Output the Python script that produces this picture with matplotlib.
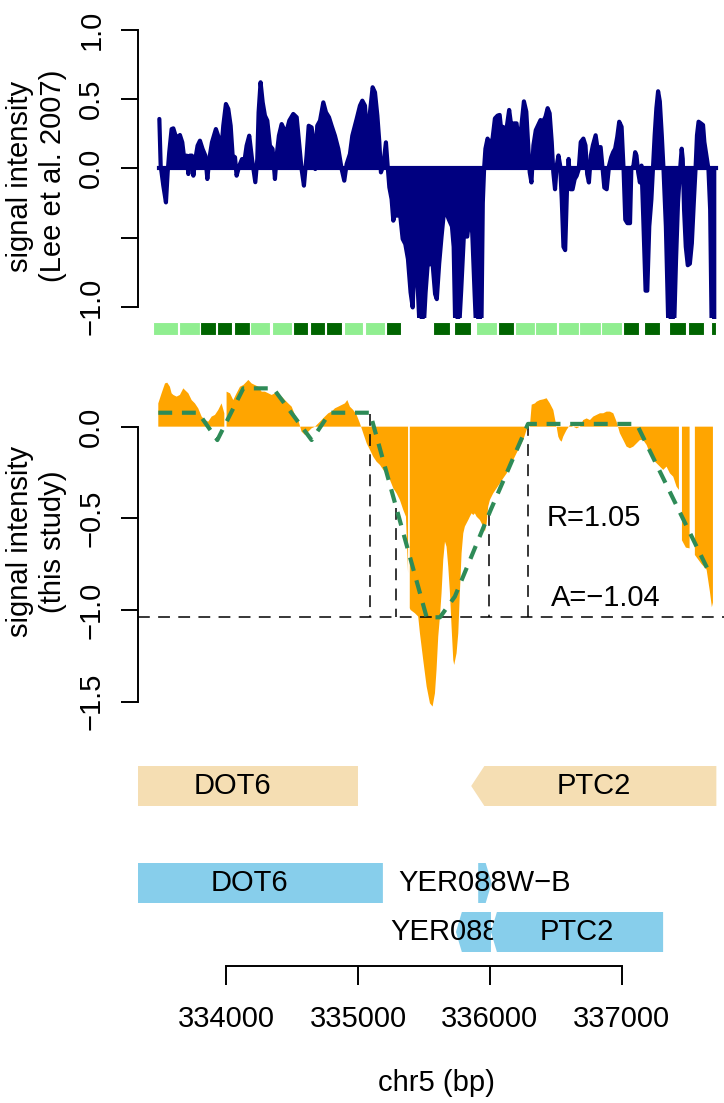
import matplotlib
matplotlib.use("Agg")
import numpy as np
import matplotlib.pyplot as plt
from matplotlib.patches import Polygon, Rectangle

plt.rcParams['font.family'] = ['Liberation Sans', 'DejaVu Sans']
plt.rcParams['axes.unicode_minus'] = True
plt.rcParams['lines.scale_dashes'] = False

# ---------------- data ----------------
# Lee et al. 2007 signal (top panel)
lee_pos = [
    333493, 333503, 333523, 333543, 333556, 333568, 333586, 333599, 333616, 333637,
    333649, 333667, 333682, 333700, 333713, 333725, 333740, 333751, 333766, 333783,
    333801, 333821, 333842, 333857, 333872, 333892, 333922, 333943, 333958, 333978,
    333998, 334016, 334034, 334049, 334067, 334079, 334100, 334120, 334135, 334155,
    334175, 334196, 334221, 334236, 334246, 334261, 334277, 334294, 334312, 334332,
    334352, 334370, 334383, 334400, 334421, 334438, 334459, 334479, 334509, 334535,
    334555, 334572, 334590, 334610, 334626, 334648, 334666, 334676, 334691, 334712,
    334737, 334757, 334780, 334800, 334825, 334851, 334876, 334896, 334914, 334939,
    334957, 334990, 335015, 335033, 335053, 335071, 335091, 335111, 335129, 335147,
    335162, 335174, 335192, 335212, 335225, 335238, 335255, 335268, 335283, 335298,
    335318, 335339, 335359, 335379, 335399, 335415, 335427, 335440, 335455, 335470,
    335496, 335513, 335528, 335541, 335547, 335567, 335585, 335598, 335616, 335634,
    335649, 335670, 335690, 335713, 335726, 335739, 335765, 335783, 335803, 335829,
    335849, 335867, 335885, 335898, 335936, 335947, 335957, 335967, 335983, 336003,
    336021, 336039, 336059, 336075, 336088, 336100, 336116, 336131, 336147, 336162,
    336183, 336203, 336218, 336239, 336259, 336277, 336290, 336303, 336316, 336331,
    336349, 336367, 336385, 336405, 336423, 336439, 336454, 336470, 336482, 336495,
    336508, 336521, 336534, 336546, 336559, 336572, 336585, 336598, 336613, 336628,
    336644, 336659, 336675, 336690, 336710, 336726, 336739, 336752, 336767, 336782,
    336803, 336818, 336841, 336854, 336869, 336887, 336905, 336921, 336936, 336951,
    336967, 336982, 337000, 337015, 337028, 337044, 337064, 337074, 337090, 337103,
    337113, 337126, 337139, 337151, 337164, 337182, 337195, 337210, 337226, 337238,
    337251, 337264, 337277, 337290, 337305, 337318, 337336, 337356, 337397, 337413,
    337428, 337444, 337456, 337464, 337474, 337487, 337502, 337518, 337533, 337549,
    337561, 337572, 337584, 337602, 337618, 337628, 337643, 337659, 337672, 337684,
    337715,
]
lee_val = [
    0.357, 0.02, -0.125, -0.246, -0.03, 0.116, 0.284, 0.289, 0.236, 0.224,
    0.241, 0.188, 0.067, 0.092, -0.041, 0.092, 0.092, -0.053, 0.067, 0.164,
    0.2, 0.14, 0.092, -0.077, 0.067, 0.188, 0.284, 0.224, 0.067, 0.308,
    0.465, 0.429, 0.308, 0.092, 0.08, -0.053, 0.02, 0.067, 0.03, 0.164,
    0.236, 0.067, -0.1, 0.067, 0.405, 0.622, 0.477, 0.381, 0.345, 0.164,
    0.14, -0.077, 0.092, 0.236, 0.32, 0.284, 0.272, 0.345, 0.393, 0.369,
    0.164, -0.005, -0.125, 0.092, 0.308, 0.296, 0.188, -0.005, 0.308, 0.345,
    0.477, 0.405, 0.369, 0.308, 0.236, 0.14, -0.005, -0.089, 0.031, 0.104,
    0.236, 0.357, 0.453, 0.489, 0.453, 0.212, 0.405, 0.586, 0.549, 0.381,
    0.188, -0.029, 0.02, 0.188, 0.02, -0.137, -0.222, -0.378, -0.318, -0.342,
    -0.318, -0.51, -0.547, -0.655, -0.896, -1.005, -0.704, -0.655, -0.896, -1.2,
    -1.2, -0.896, -0.704, -0.692, -0.689, -0.70, -0.908, -0.945, -0.689, -0.493,
    -0.347, -0.322, -0.371, -0.42, -0.567, -1.2, -1.2, -0.884, -0.493, -0.493,
    -0.322, -0.469, -0.908, -1.2, -1.2, -0.249, 0.0, 0.142, 0.215, 0.178,
    0.215, 0.361, 0.381, 0.386, 0.264, 0.30, 0.252, 0.313, 0.422, 0.313,
    0.325, 0.325, 0.203, 0.30, 0.484, 0.41, 0.19, -0.029, -0.102, 0.166,
    0.276, 0.313, 0.349, 0.337, 0.374, 0.435, 0.398, 0.19, -0.029, -0.151,
    0.02, 0.093, 0.02, -0.225, -0.567, -0.591, -0.176, 0.068, -0.151, -0.151,
    -0.078, -0.054, -0.005, 0.19, 0.215, 0.166, -0.042, -0.102, 0.093, 0.166,
    0.239, 0.142, 0.154, 0.02, -0.139, -0.151, 0.02, 0.08, 0.117, 0.142,
    0.227, 0.337, 0.30, -0.005, -0.371, -0.396, -0.396, -0.005, 0.02, 0.117,
    0.093, -0.029, -0.102, 0.02, -0.347, -0.884, -0.884, -0.42, -0.225, -0.005,
    0.239, 0.435, 0.557, 0.484, 0.239, -0.005, -0.42, -1.2, -1.2, -0.664,
    -0.249, -0.005, 0.142, 0.068, -0.298, -0.567, -0.70, -0.689, -0.542, -0.225,
    -0.005, 0.239, 0.337, 0.325, 0.313, 0.19, 0.093, -0.005, -0.298, -1.2,
    -1.2,
]

# segments under the top panel (1 = light, 0 = dark)
seg_start = [333444, 333642, 333804, 333930, 334057, 334184, 334345, 334507, 334634,
             334761, 334892, 335052, 335212, 335566, 335726, 335892, 336059, 336188,
             336346, 336521, 336680, 336847, 337008, 337167, 337362, 337501, 337680]
seg_end = [333634, 333799, 333920, 334047, 334178, 334336, 334503, 334624, 334750,
           334882, 335039, 335204, 335330, 335695, 335854, 336054, 336183, 336342,
           336508, 336675, 336841, 337003, 337132, 337295, 337490, 337629, 337717]
seg_state = [1, 1, 0, 0, 0, 1, 1, 0, 0, 0, 1, 1, 0, 0, 0, 1, 0, 1, 1, 1, 1, 1, 0, 0, 0, 0, 0]

# this study signal (middle panel); nan = missing probes
nan = np.nan
study_pos = [
    333485, 333510, 333536, 333553, 333573, 333586, 333599, 333624, 333649, 333662,
    333675, 333687, 333713, 333738, 333763, 333788, 333814, 333839, 333864, 333890,
    333915, 333940, 333965, 333986, 333994, 334003, 334029, 334054, 334079, 334105,
    334130, 334155, 334168, 334193, 334218, 334244, 334269, 334294, 334320, 334345,
    334370, 334395, 334421, 334446, 334471, 334497, 334522, 334547, 334572, 334598,
    334623, 334648, 334674, 334699, 334724, 334749, 334775, 334800, 334825, 334851,
    334876, 334901, 334919, 334939, 334964, 334990, 335015, 335040, 335066, 335091,
    335116, 335141, 335167, 335192, 335217, 335243, 335268, 335293, 335318, 335344,
    335364, 335380, 335387, 335393, 335399, 335432, 335457, 335470, 335495, 335521,
    335546, 335566, 335584, 335596, 335609, 335622, 335634, 335647, 335660, 335672,
    335685, 335698, 335710, 335723, 335730, 335748, 335761, 335773, 335786, 335799,
    335811, 335824, 335837, 335849, 335862, 335875, 335887, 335900, 335925, 335950,
    335963, 335976, 335988, 336001, 336026, 336052, 336077, 336102, 336128, 336153,
    336178, 336203, 336229, 336254, 336267, 336279, 336292, 336304, 336318, 336343,
    336355, 336380, 336406, 336431, 336456, 336482, 336494, 336507, 336520, 336532,
    336545, 336557, 336570, 336583, 336608, 336633, 336659, 336684, 336709, 336735,
    336760, 336785, 336810, 336836, 336861, 336886, 336912, 336937, 336962, 336987,
    337013, 337038, 337063, 337089, 337114, 337139, 337164, 337190, 337215, 337240,
    337266, 337291, 337316, 337341, 337367, 337392, 337417, 337435, 337446, 337458,
    337488, 337516, 337536, 337556, 337607, 337645, 337670, 337685, 337693,
]
study_val = [
    0.127, 0.182, 0.236, 0.24, 0.218, 0.182, 0.173, 0.164, 0.173, 0.191,
    0.209, 0.2, 0.182, 0.145, 0.127, 0.1, 0.055, 0.036, 0.027, 0.055,
    0.064, 0.091, 0.127, 0.073, nan, 0.191, 0.182, 0.145, 0.182, 0.218,
    0.227, 0.245, 0.255, 0.236, 0.227, 0.218, 0.191, 0.191, 0.182, 0.173,
    0.182, 0.164, 0.164, 0.145, 0.127, 0.109, 0.064, 0.036, -0.027, -0.045,
    -0.027, -0.009, 0.0, 0.018, 0.036, 0.055, 0.073, 0.082, 0.1, 0.109,
    0.118, 0.127, 0.145, 0.109, 0.091, 0.064, 0.018, -0.036, -0.091, -0.127,
    -0.164, -0.191, -0.209, -0.236, -0.255, -0.291, -0.336, -0.364, -0.4, -0.455,
    -0.491, -0.8, nan, -0.99, -1.0, -1.018, -1.036, -1.127, -1.273, -1.418,
    -1.509, -1.527, -1.455, -1.327, -1.145, -1.036, -0.909, -0.727, -0.627, -0.655,
    -0.764, -0.909, -1.091, -1.273, -1.3, -1.236, -1.127, -0.909, -0.691, -0.582,
    -0.545, -0.527, -0.509, -0.491, -0.473, -0.482, -0.473, -0.491, -0.509, -0.545,
    -0.573, -0.527, -0.436, -0.4, -0.364, -0.336, -0.309, -0.282, -0.255, -0.218,
    -0.182, -0.145, -0.109, -0.073, -0.045, -0.018, 0.0, 0.0, 0.12, 0.127,
    0.136, 0.145, 0.149, 0.155, 0.127, 0.091, 0.045, 0.0, -0.055, -0.073,
    -0.082, -0.055, -0.036, -0.018, 0.009, 0.0, -0.009, 0.0, 0.036, 0.045,
    0.036, 0.055, 0.064, 0.073, 0.073, 0.082, 0.082, 0.073, 0.027, -0.036,
    -0.073, -0.109, -0.118, -0.109, -0.091, -0.073, -0.073, -0.1, -0.145, -0.182,
    -0.2, -0.218, -0.236, -0.218, -0.255, -0.273, -0.327, -0.345, nan, -0.62,
    -0.66, -0.664, nan, -0.7, -0.75, -0.78, -0.9, -0.985, -0.96,
]

# segmented fit (green dashed)
fit_pos = [333485, 333788, 333933, 334130, 334357, 334648, 334787, 335091,
           335521, 335622, 335735, 336001, 336290, 337114, 337650]
fit_val = [0.076, 0.076, -0.073, 0.209, 0.209, -0.073, 0.076, 0.076,
           -1.04, -1.04, -0.927, -0.464, 0.015, 0.015, -0.773]

A_level = -1.04
R_value = 1.05
cut_pos = [335094, 335292, 335993, 336291]

# gene annotations
track1_names = ["DOT6", "PTC2"]
track1_start = [333088, 335859]
track1_end = [335000, 337719]
track1_strand = ["-", "-"]

track2_names = ["DOT6", "YER088W\u2212B", "YER088C\u2212A", "PTC2"]
track2_start = [333164, 335912, 335743, 336009]
track2_end = [335189, 336014, 336009, 337315]
track2_strand = ["-", "+", "-", "-"]
track2_lane = [0, 0, 1, 1]

x_ticks = [334000, 335000, 336000, 337000]

# ---------------- style / layout ----------------
W, H = 724, 1103
NAVY = "#000080"
ORANGE = "#FFA500"
LIGHTG = "#90EE90"
DARKG = "#006400"
SEAG = "#2E8B57"
WHEAT = "#F5DEB3"
SKY = "#87CEEB"
FS = 21
XLIM = (333331, 337777)


def box(l, t, r, b):
    return [l / W, 1 - b / H, (r - l) / W, (b - t) / H]


fig = plt.figure(figsize=(W / 100, H / 100), dpi=100)


def style_y(ax, ticks, labels, lo, hi):
    for s in ["top", "right", "bottom"]:
        ax.spines[s].set_visible(False)
    ax.spines["left"].set_bounds(lo, hi)
    ax.spines["left"].set_linewidth(1.4)
    ax.set_yticks(ticks)
    ax.set_yticklabels(labels)
    ax.set_xticks([])
    ax.tick_params(axis="y", length=12.5, width=1.4, pad=11, labelsize=FS)
    for t in ax.get_yticklabels():
        t.set_rotation(90)
        t.set_va("center")
        t.set_ha("right")
    ax.patch.set_alpha(0)


# top panel
ax1 = fig.add_axes(box(138, 18.9, 724, 317.8))
ax1.fill_between(lee_pos, 0, lee_val, color=NAVY, lw=0)
ax1.plot(lee_pos, lee_val, color=NAVY, lw=3, solid_joinstyle="round", solid_capstyle="round")
ax1.plot([lee_pos[0], lee_pos[-1]], [0, 0], color=NAVY, lw=3)
ax1.set_xlim(*XLIM)
ax1.set_ylim(-1.08, 1.08)
style_y(ax1, [-1, -0.5, 0, 0.5, 1], ["\u22121.0", "", "0.0", "0.5", "1.0"], -1, 1)

# segment bar
axg = fig.add_axes(box(138, 322, 724, 335))
for s, e, st in zip(seg_start, seg_end, seg_state):
    axg.add_patch(Rectangle((s, 0), e - s, 1, facecolor=LIGHTG if st else DARKG,
                            edgecolor="white", lw=0.8))
axg.set_xlim(*XLIM)
axg.set_ylim(0, 1)
axg.axis("off")

# middle panel
ax2 = fig.add_axes(box(138, 368, 724, 718.1))
ax2.fill_between(study_pos, 0, study_val, color=ORANGE, lw=0, zorder=1)
ax2.axhline(A_level, color="black", lw=1.1, dashes=(8.5, 6), zorder=3)
for c in cut_pos:
    top = np.interp(c, fit_pos, fit_val)
    ax2.plot([c, c], [top, A_level], color="black", lw=1.1, dashes=(8.5, 6), zorder=3)
ax2.plot(fit_pos, fit_val, color=SEAG, lw=3, dashes=(10, 7), zorder=4)
ax2.text(336791, -0.5, "R=%.2f" % R_value, fontsize=FS, ha="center", va="center", zorder=5)
ax2.text(336880, -0.934, "A=\u2212%.2f" % abs(A_level), fontsize=FS, ha="center", va="center", zorder=5)
ax2.set_xlim(*XLIM)
ax2.set_ylim(-1.59, 0.32)
style_y(ax2, [-1.5, -1.0, -0.5, 0.0], ["\u22121.5", "\u22121.0", "\u22120.5", "0.0"], -1.5, 0)

# y labels
fig.text(36.5 / W, 1 - 176 / H, "signal intensity\n(Lee et al. 2007)", rotation=90,
         ha="center", va="center", fontsize=FS, linespacing=1.22)
fig.text(36.5 / W, 1 - 541.7 / H, "signal intensity\n(this study)", rotation=90,
         ha="center", va="center", fontsize=FS, linespacing=1.22)

# gene panel (y in pixel-like units, inverted)
ax3 = fig.add_axes(box(138, 740, 724, 966))
ax3.set_xlim(*XLIM)
ax3.set_ylim(966, 740)
for s in ["top", "right", "left"]:
    ax3.spines[s].set_visible(False)
ax3.spines["bottom"].set_bounds(x_ticks[0], x_ticks[-1])
ax3.spines["bottom"].set_linewidth(1.4)
ax3.set_yticks([])
ax3.set_xticks(x_ticks)
ax3.set_xticklabels([str(t) for t in x_ticks])
ax3.tick_params(axis="x", length=14, width=1.4, pad=14, labelsize=FS)
ax3.patch.set_alpha(0)


def gene_poly(start, end, strand, top, bot, head):
    mid = (top + bot) / 2
    if strand == "-":
        pts = [(start, mid), (start + head, top), (end, top), (end, bot), (start + head, bot)]
    else:
        pts = [(start, top), (end - head, top), (end, mid), (end - head, bot), (start, bot)]
    return pts


rows1 = (766, 806)
for n, s, e, st in zip(track1_names, track1_start, track1_end, track1_strand):
    ax3.add_patch(Polygon(gene_poly(s, e, st, rows1[0], rows1[1], 100), closed=True,
                          facecolor=WHEAT, edgecolor="none"))
    ax3.text((s + e) / 2, sum(rows1) / 2, n, fontsize=FS, ha="center", va="center")

lanes = [(863, 903), (912, 952)]
for i, (n, s, e, st, ln) in enumerate(zip(track2_names, track2_start, track2_end,
                                          track2_strand, track2_lane)):
    t, b = lanes[ln]
    ax3.add_patch(Polygon(gene_poly(s, e, st, t, b, 45), closed=True,
                          facecolor=SKY, edgecolor="none", zorder=2 + 2 * i))
    txt = ax3.text((s + e) / 2, (t + b) / 2, n, fontsize=FS, ha="center", va="center",
                   zorder=3 + 2 * i)
    # later genes in the same lane are drawn over this label: clip it there
    later = [track2_start[j] for j in range(i + 1, len(track2_names))
             if track2_lane[j] == ln and track2_start[j] > s]
    if later:
        clip = Rectangle((XLIM[0] - 2000, 700), min(later) - XLIM[0] + 2000, 300,
                         transform=ax3.transData)
        txt.set_clip_path(clip)

fig.text(436.5 / W, 1 - 1083 / H, "chr5 (bp)", ha="center", va="center", fontsize=FS)

fig.savefig("out.png", dpi=100)
